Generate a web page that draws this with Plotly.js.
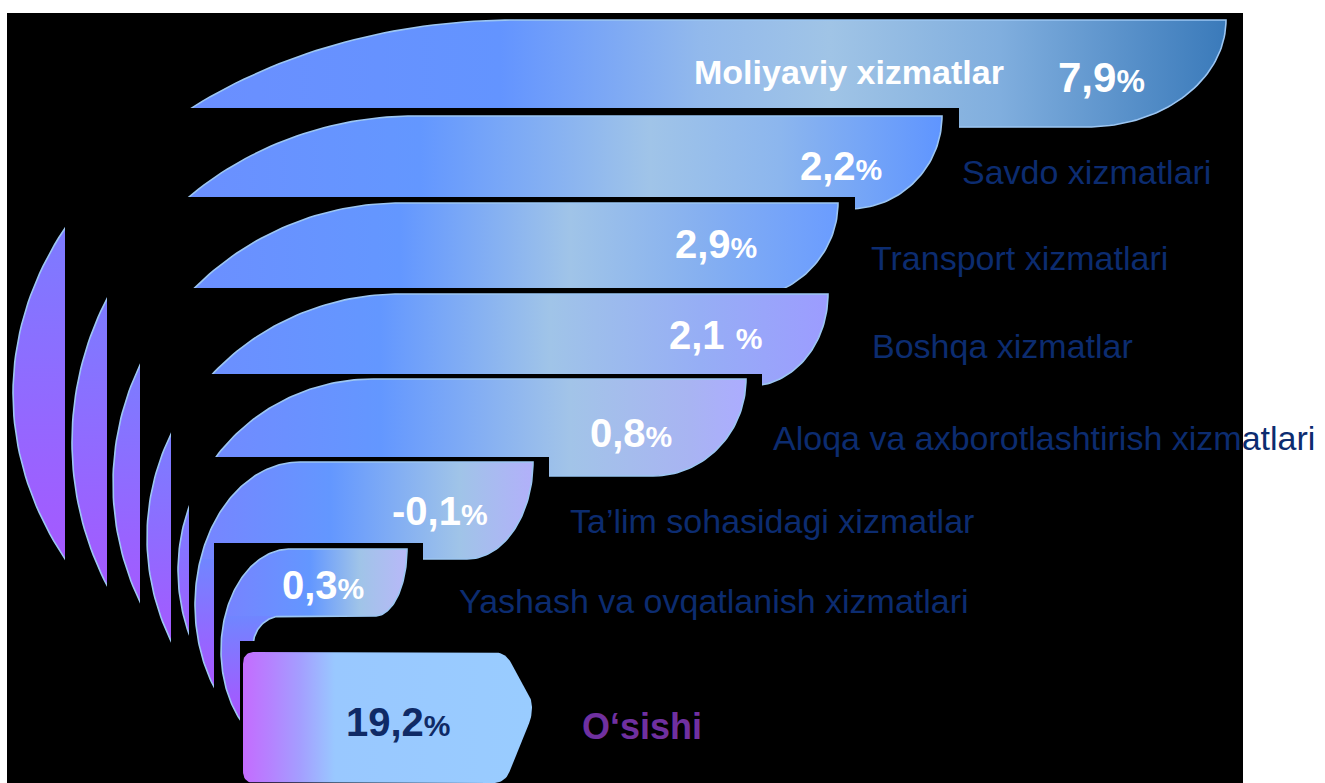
<!DOCTYPE html>
<html><head><meta charset="utf-8">
<script src="https://cdn.plot.ly/plotly-3.0.1.min.js"></script>
<style>html,body{margin:0;padding:0;background:#fff;overflow:hidden;}</style>
</head><body><div id="chart" style="width:1325px;height:783px;"></div>
<script>
// ---------------- data ----------------
const categories = [
  "Moliyaviy xizmatlar",
  "Savdo xizmatlari",
  "Transport xizmatlari",
  "Boshqa xizmatlar",
  "Aloqa va axborotlashtirish xizmatlari",
  "Ta’lim sohasidagi xizmatlar",
  "Yashash va ovqatlanish xizmatlari"
];
const values = [7.9, 2.2, 2.9, 2.1, 0.8, -0.1, 0.3];
const valueLabels = ["7,9", "2,2", "2,9", "2,1 ", "0,8", "-0,1", "0,3"];
const totalCategory = "O‘sishi";
const totalValue = 19.2;
const totalLabel = "19,2";

// ---------------- geometry (reference canvas pixels, y downward) ----------------
const W = 1325, H = 783;
const bandTop    = [20, 116, 203, 294, 379, 462, 549];
const bandRight  = [1226, 942, 838, 828, 746, 533, 407];
const bandEndX   = [1087, 849, 736, 750, 653, 467, 375];
const bandBottom = [127, 209, 300, 386, 476, 559, 616];
const arcCx = [515, 415, 401, 400, 373, 300, 290];
const arcA  = [502, 343, 288, 253, 195, 105, 69];
const arcCy = [393.5, 442, 483.5, 537.5, 570.5, 605, 650];
const arcB  = [373.5, 326, 280.5, 243.5, 191.5, 143, 101];
const armW   = [30, 30, 30, 28, 28, 28, 28];
const innerRx = [20, 20, 20, 20, 20, 20, 29];
const innerRy = [20, 20, 20, 20, 20, 20, 30];
const boxLeft  = [65, 107, 140, 171, 189, 214, 240];
const boxTop   = [108, 197, 288, 374, 457, 543, 641];
const boxRight = [959, 855, 845, 762, 549, 423, 545];
const totalBox = {left: 243, top: 652, right: 505, tipX: 532, tipTop: 700, tipBottom: 716, bottom: 783, r: 12};

// ---------------- styles ----------------
const bandStops = [
  [[13,'#6f8cff'],[500,'#6394ff'],[700,'#92b9ec'],[830,'#a0c4e6'],[1000,'#80aede'],[1226,'#3a7aba']],
  [[72,'#6f8cff'],[420,'#6397ff'],[650,'#a0c4e8'],[780,'#8cb6ee'],[942,'#5f95ff']],
  [[113,'#6f8cff'],[400,'#6397ff'],[570,'#a0c4e8'],[700,'#86b0f0'],[838,'#6a9cff']],
  [[147,'#6f8cff'],[380,'#6397ff'],[550,'#a0c4e8'],[700,'#96aef5'],[828,'#9c9cff']],
  [[178,'#7488ff'],[380,'#6397ff'],[570,'#a2c4e8'],[690,'#a8b4f2'],[746,'#acacff']],
  [[195,'#7884ff'],[330,'#6397ff'],[460,'#a0c4e8'],[533,'#b2b0fa']],
  [[221,'#7882ff'],[310,'#6397ff'],[360,'#a0c4e8'],[407,'#b8b8f8']]
];
const totalStops = [[243,'#c46cff'],[270,'#b582ff'],[300,'#a49eff'],[335,'#99c8ff'],[533,'#99ccff']];
const armTopColor = '#7086ff', armBottomColor = '#b44cff';
const edgeColor = '#9cc6f2';
const navy = '#0c2c70';
const FONT = 'Liberation Sans, Arial, sans-serif';

// label positions (left x, middle y)
const catPos = [[692,72],[960,172],[869,258],[870,346],[771,438],[568,521],[457,601]];
const valPos = [[1056,77],[798,166],[673,244],[667,335],[588,433],[390,511],[280,585]];
const totalValPos = [344,722];
const totalCatPos = [580,726];

// ---------------- helpers ----------------
const N = 48;
function toTrace(pts){ return {x: pts.map(p=>p[0]), y: pts.map(p=>H-p[1])}; }
function scaleFromStops(stops){
  const s0 = stops[0][0], s1 = stops[stops.length-1][0];
  return {start: s0, stop: s1, colorscale: stops.map(s=>[(s[0]-s0)/(s1-s0), s[1]])};
}
function bandGeom(i){
  const cx=arcCx[i], a=arcA[i], cy=arcCy[i], b=arcB[i];
  const top=bandTop[i], bot=bandBottom[i], xr=bandRight[i], xe=bandEndX[i];
  const phiB = Math.acos((cy-bot)/b);
  const xOutB = cx - a*Math.sin(phiB);
  const armR = xOutB + armW[i];
  const phiLow = Math.PI - Math.asin((cx-armR)/a);
  return {cx,a,cy,b,top,bot,xr,xe,phiB,xOutB,armR,phiLow};
}
function innerCurve(i, g){
  const pts=[]; const irx=innerRx[i], iry=innerRy[i];
  for(let k=0;k<=N;k++){const s=k/N*Math.PI/2; pts.push([g.armR+irx-irx*Math.sin(s), g.bot+iry-iry*Math.cos(s)]);}
  return pts;
}
function bandPath(i){
  const g = bandGeom(i); let pts = [];
  pts.push([g.cx, g.top]);
  const rx = g.xr-g.xe, ry = g.bot-g.top;
  for(let k=0;k<=N;k++){const t=k/N*Math.PI/2; pts.push([g.xe+rx*Math.cos(t), g.top+ry*Math.sin(t)]);}
  pts = pts.concat(innerCurve(i, g));
  const M=120;
  for(let k=0;k<=M;k++){const phi=g.phiLow*(1-k/M); pts.push([g.cx-g.a*Math.sin(phi), g.cy-g.b*Math.cos(phi)]);}
  return pts;
}
function armPath(i){
  const g = bandGeom(i); let pts=[];
  pts.push([g.xOutB, g.bot]);
  pts = pts.concat(innerCurve(i, g));
  const M=80;
  for(let k=0;k<=M;k++){const phi=g.phiLow-(g.phiLow-g.phiB)*k/M; pts.push([g.cx-g.a*Math.sin(phi), g.cy-g.b*Math.cos(phi)]);}
  return {pts, yLow: g.cy-g.b*Math.cos(g.phiLow), yTop: g.bot};
}
function roundedPoly(verts, r){
  const pts=[]; const n=verts.length;
  for(let i=0;i<n;i++){
    const V=verts[i], P=verts[(i-1+n)%n], Q=verts[(i+1)%n];
    const d1=Math.hypot(P[0]-V[0],P[1]-V[1]), d2=Math.hypot(Q[0]-V[0],Q[1]-V[1]);
    const rr=Math.min(r,d1/2,d2/2);
    const A=[V[0]+(P[0]-V[0])*rr/d1, V[1]+(P[1]-V[1])*rr/d1];
    const B=[V[0]+(Q[0]-V[0])*rr/d2, V[1]+(Q[1]-V[1])*rr/d2];
    for(let k=0;k<=12;k++){const t=k/12;
      pts.push([(1-t)*(1-t)*A[0]+2*(1-t)*t*V[0]+t*t*B[0], (1-t)*(1-t)*A[1]+2*(1-t)*t*V[1]+t*t*B[1]]);}
  }
  pts.push(pts[0]);
  return pts;
}
function boxPath(j){
  return [[boxLeft[j],boxTop[j]],[boxRight[j],boxTop[j]],[boxRight[j],H+20],[boxLeft[j],H+20],[boxLeft[j],boxTop[j]]];
}

// ---------------- traces ----------------
const traces = [];
const base = {type:'scatter', mode:'lines', hoverinfo:'skip', showlegend:false};
const noLine = {width:0, color:'rgba(0,0,0,0)'};
for(let i=0;i<categories.length;i++){
  const bp = bandPath(i);
  const sc = scaleFromStops(bandStops[i]);
  traces.push(Object.assign({}, base, toTrace(bp), {fill:'toself', line:noLine,
    fillcolor: bandStops[i][1][1],
    fillgradient:{type:'horizontal', start: sc.start, stop: sc.stop, colorscale: sc.colorscale}}));
  const ap = armPath(i);
  traces.push(Object.assign({}, base, toTrace(ap.pts), {fill:'toself', line:noLine,
    fillcolor: armBottomColor,
    fillgradient:{type:'vertical', start: H-ap.yLow, stop: H-ap.yTop, colorscale:[[0,armBottomColor],[1,armTopColor]]}}));
  traces.push(Object.assign({}, base, toTrace(bp.concat([bp[0]])), {fill:'none', line:{width:1.6, color:edgeColor}}));
  traces.push(Object.assign({}, base, toTrace(boxPath(i)), {fill:'toself', fillcolor:'#000000', line:noLine}));
}
const tb = totalBox;
const totalVerts = [[tb.left,tb.top],[tb.right,tb.top],[tb.tipX,tb.tipTop],[tb.tipX,tb.tipBottom],[tb.right,tb.bottom],[tb.left,tb.bottom]];
const tp = roundedPoly(totalVerts, tb.r);
const tsc = scaleFromStops(totalStops);
traces.push(Object.assign({}, base, toTrace(tp), {fill:'toself', line:noLine,
  fillcolor:'#99ccff', fillgradient:{type:'horizontal', start:tsc.start, stop:tsc.stop, colorscale:tsc.colorscale}}));

// ---------------- annotations ----------------
const annotations = [];
function pctText(lab, big, small){
  return '<b><span style="font-size:'+big+'px">'+lab+'</span><span style="font-size:'+small+'px">%</span></b>';
}
categories.forEach((c,i)=>{
  const isInside = i===0;
  annotations.push({x:catPos[i][0], y:H-catPos[i][1], xref:'x', yref:'y', xanchor:'left', yanchor:'middle', showarrow:false,
    text: isInside ? '<b>'+c+'</b>' : c,
    font:{family:FONT, size:34, color: isInside ? '#ffffff' : navy}});
  const big = i===0 ? 42 : 40, small = i===0 ? 32 : 30;
  annotations.push({x:valPos[i][0], y:H-valPos[i][1], xref:'x', yref:'y', xanchor:'left', yanchor:'middle', showarrow:false,
    text: pctText(valueLabels[i], big, small), font:{family:FONT, size:big, color:'#ffffff'}});
});
annotations.push({x:totalValPos[0], y:H-totalValPos[1], xref:'x', yref:'y', xanchor:'left', yanchor:'middle', showarrow:false,
  text: pctText(totalLabel, 40, 30), font:{family:FONT, size:40, color:'#0f2a66'}});
annotations.push({x:totalCatPos[0], y:H-totalCatPos[1], xref:'x', yref:'y', xanchor:'left', yanchor:'middle', showarrow:false,
  text: '<b>'+totalCategory+'</b>', font:{family:FONT, size:36, color:'#7030a0'}});

const layout = {
  width: W, height: H, margin:{l:0,r:0,t:0,b:0,pad:0},
  paper_bgcolor:'#ffffff', plot_bgcolor:'#ffffff',
  xaxis:{range:[0,W], visible:false, fixedrange:true},
  yaxis:{range:[0,H], visible:false, fixedrange:true},
  shapes:[{type:'rect', xref:'x', yref:'y', x0:7, x1:1243, y0:-5, y1:H-13, fillcolor:'#000000', line:{width:0}, layer:'below'}],
  annotations: annotations,
  showlegend:false
};
Plotly.newPlot('chart', traces, layout, {staticPlot:true, displayModeBar:false});
</script>
</body></html>
